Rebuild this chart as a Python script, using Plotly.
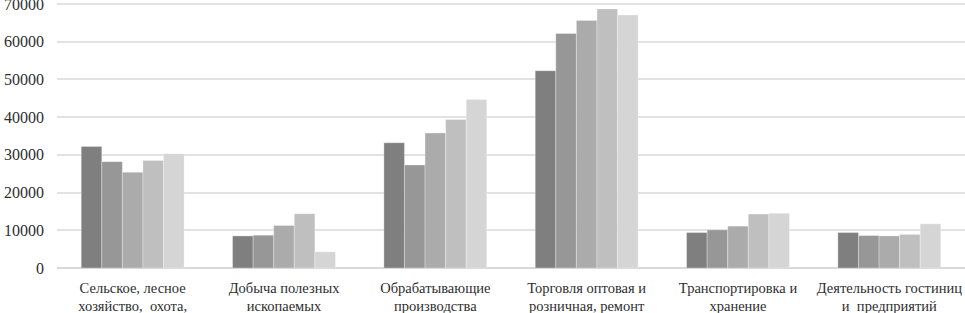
import plotly.graph_objects as go

categories = [
    "Сельское, лесное<br>хозяйство,  охота,",
    "Добыча полезных<br>ископаемых",
    "Обрабатывающие<br>производства",
    "Торговля оптовая и<br>розничная, ремонт",
    "Транспортировка и<br>хранение",
    "Деятельность гостиниц<br>и  предприятий",
]

series_names = ["Ряд 1", "Ряд 2", "Ряд 3", "Ряд 4", "Ряд 5"]
series_1 = [32200, 8500, 33200, 52300, 9400, 9400]
series_2 = [28200, 8700, 27300, 62200, 10100, 8600]
series_3 = [25400, 11300, 35800, 65600, 11100, 8500]
series_4 = [28500, 14400, 39400, 68700, 14300, 8900]
series_5 = [30300, 4300, 44700, 67100, 14500, 11700]
series_values = [series_1, series_2, series_3, series_4, series_5]

colors = ["#7f7f7f", "#979797", "#ababab", "#bfbfbf", "#d5d5d5"]

y_ticks = [0, 10000, 20000, 30000, 40000, 50000, 60000, 70000]
y_tick_labels = ["0", "10000", "20000", "30000", "40000", "50000", "60000", "70000"]

fig = go.Figure()
for name, vals, col in zip(series_names, series_values, colors):
    fig.add_trace(go.Bar(
        x=categories, y=vals, name=name,
        marker=dict(color=col, line=dict(width=0.6, color="rgba(255,255,255,0.5)")),
    ))

font_family = "Liberation Serif"
fig.update_layout(
    width=965, height=313,
    margin=dict(l=57, r=0, t=0, b=45, autoexpand=False),
    paper_bgcolor="white", plot_bgcolor="white",
    barmode="group", bargap=0.32, bargroupgap=0,
    showlegend=False,
    font=dict(family=font_family, size=15, color="#2e2e2e"),
)
fig.update_xaxes(
    showgrid=False, showline=False, zeroline=False, ticks="",
    automargin=False, tickangle=0, ticklabeloverflow="allow",
    ticklabelstandoff=9,
    tickfont=dict(family=font_family, size=14.5, color="#2e2e2e"),
)
fig.update_yaxes(
    range=[0, 71060], tickvals=y_ticks, ticktext=y_tick_labels,
    showgrid=True, gridcolor="#e2e2e2", gridwidth=1.5,
    zeroline=True, zerolinecolor="#d9d9d9", zerolinewidth=1.5,
    showline=False, ticks="", automargin=False, ticklabelstandoff=12,
    ticklabeloverflow="allow",
    tickfont=dict(family=font_family, size=16, color="#2e2e2e"),
)

fig.write_html(
    "out.html",
    config={"displayModeBar": False},
    post_script="document.body.style.margin='0px';document.body.style.overflow='hidden';",
)
